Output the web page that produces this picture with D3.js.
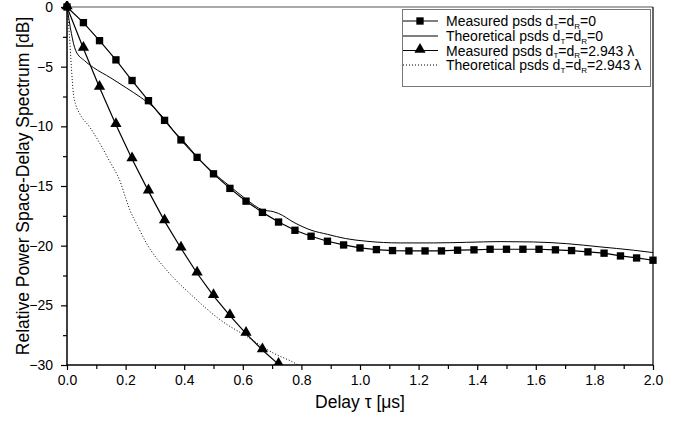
<!DOCTYPE html>
<html>
<head>
<meta charset="utf-8">
<script src="https://cdn.jsdelivr.net/npm/d3@7"></script>
<style>
  body { margin: 0; background: #fff; }
  svg { font-family: Arial, "Liberation Sans", sans-serif; }
</style>
</head>
<body>
<div id="chart"></div>
<script>
// measured delays (us)
var tauMeasured = [0, 0.056, 0.111, 0.167, 0.222, 0.278, 0.333, 0.389, 0.444, 0.5,
    0.556, 0.611, 0.667, 0.722, 0.778, 0.833, 0.889, 0.944, 1.0, 1.056, 1.111,
    1.167, 1.222, 1.278, 1.333, 1.389, 1.444, 1.5, 1.556, 1.611, 1.667, 1.722,
    1.778, 1.833, 1.889, 1.944, 2.0];

// measured psds dT=dR=0 [dB]
var measured0 = [0, -1.31, -2.82, -4.43, -6.16, -7.85, -9.5, -11.14, -12.6, -13.98,
    -15.2, -16.27, -17.21, -18.02, -18.71, -19.21, -19.63, -19.94, -20.19, -20.33,
    -20.41, -20.44, -20.44, -20.44, -20.38, -20.35, -20.3, -20.3, -20.3, -20.3,
    -20.35, -20.41, -20.52, -20.63, -20.86, -21.03, -21.22];

// measured psds dT=dR=2.943 lambda [dB]
var measured2943 = [0, -3.48, -6.74, -9.86, -12.73, -15.43, -17.94, -20.22, -22.31,
    -24.2, -25.87, -27.37, -28.74, -29.95];

// theoretical psds dT=dR=0
var tauTheo0 = [0, 0.03, 0.06, 0.09, 0.15, 0.204, 0.25, 0.295, 0.33, 0.363, 0.4,
    0.444, 0.5, 0.555, 0.611, 0.667, 0.704, 0.722, 0.778, 0.833, 0.889, 0.95,
    1.023, 1.137, 1.25, 1.364, 1.478, 1.592, 1.705, 1.819, 1.933, 2.0];
var theo0 = [0, -3.67, -4.5, -5.07, -5.95, -6.8, -7.55, -8.4, -9.3, -10.36, -11.3,
    -12.55, -13.9, -15.0, -16.1, -17.0, -17.15, -17.3, -18.1, -18.7, -19.05, -19.4,
    -19.63, -19.77, -19.77, -19.72, -19.66, -19.69, -19.83, -20.1, -20.38, -20.58];

// theoretical psds dT=dR=2.943 lambda
var tauTheo2943 = [0, 0.008, 0.015, 0.022, 0.03, 0.044, 0.078, 0.113, 0.147, 0.181,
    0.2, 0.215, 0.24, 0.272, 0.34, 0.431, 0.522, 0.613, 0.704, 0.784, 0.8];
var theo2943 = [0, -2.3, -5.07, -7.3, -8.2, -8.97, -10.08, -11.47, -13.0, -14.6,
    -16.0, -17.04, -18.3, -19.83, -22.05, -24.28, -26.2, -27.6, -29.0, -29.94, -30.2];

var xTicks = [0, 0.2, 0.4, 0.6, 0.8, 1.0, 1.2, 1.4, 1.6, 1.8, 2.0];
var yTicks = [0, -5, -10, -15, -20, -25, -30];

var width = 678, height = 424;
var margin = {left: 67, right: 25, top: 7, bottom: 59};

var svg = d3.select("#chart").append("svg")
    .attr("width", width)
    .attr("height", height);

var x = d3.scaleLinear().domain([0, 2]).range([margin.left, width - margin.right]);
var y = d3.scaleLinear().domain([0, -30]).range([margin.top, height - margin.bottom]);

svg.append("clipPath").attr("id", "plot")
    .append("rect")
    .attr("x", x(0) - 6).attr("y", y(0) - 6)
    .attr("width", x(2) - x(0) + 12).attr("height", y(-30) - y(0) + 6);

// frame top and right
svg.append("line")
    .attr("x1", x(0)).attr("x2", x(2)).attr("y1", y(0)).attr("y2", y(0))
    .attr("stroke", "#8c8c8c").attr("stroke-width", 1.3);
svg.append("line")
    .attr("x1", x(2)).attr("x2", x(2)).attr("y1", y(0)).attr("y2", y(-30))
    .attr("stroke", "#000").attr("stroke-width", 1.2);

// axes
var xAxis = d3.axisBottom(x).tickValues(xTicks).tickSize(5).tickPadding(5)
    .tickFormat(d3.format(".1f"));
var gx = svg.append("g").attr("transform", "translate(0," + y(-30) + ")").call(xAxis);
svg.append("g").attr("transform", "translate(0," + y(-30) + ")")
    .call(d3.axisBottom(x).tickValues(d3.range(0.1, 2, 0.2)).tickSize(4).tickFormat(""))
    .select(".domain").remove();

var yAxis = d3.axisLeft(y).tickValues(yTicks).tickSize(6).tickPadding(8);
var gy = svg.append("g").attr("transform", "translate(" + x(0) + ",0)").call(yAxis);
svg.append("g").attr("transform", "translate(" + x(0) + ",0)")
    .call(d3.axisLeft(y).tickValues([-2.5, -7.5, -12.5, -17.5, -22.5, -27.5]).tickSize(4).tickFormat(""))
    .select(".domain").remove();

svg.selectAll(".domain").attr("stroke-width", 1.5);
svg.selectAll(".tick line").attr("stroke-width", 1.2);
svg.selectAll(".tick text").style("font-size", "14px").attr("fill", "#000");
gx.select(".domain").attr("d", "M" + x(0) + ",0H" + x(2));
gy.select(".domain").attr("d", "M0," + y(0) + "V" + y(-30));

// axis titles
svg.append("text")
    .attr("x", (x(0) + x(2)) / 2).attr("y", 408)
    .attr("text-anchor", "middle")
    .style("font-size", "17.5px")
    .text("Delay \u03c4 [\u03bcs]");

svg.append("text")
    .attr("transform", "translate(29," + ((y(0) + y(-30)) / 2) + ") rotate(-90)")
    .attr("text-anchor", "middle")
    .style("font-size", "17.5px")
    .text("Relative Power Space-Delay Spectrum [dB]");

// series
var plot = svg.append("g").attr("clip-path", "url(#plot)");

var lineStraight = d3.line()
    .x(function (d) { return x(d[0]); })
    .y(function (d) { return y(d[1]); });
var lineSmooth = d3.line()
    .x(function (d) { return x(d[0]); })
    .y(function (d) { return y(d[1]); })
    .curve(d3.curveMonotoneX);

var m0 = tauMeasured.map(function (t, i) { return [t, measured0[i]]; });
var m2 = measured2943.map(function (v, i) { return [tauMeasured[i], v]; });
var t0 = tauTheo0.map(function (t, i) { return [t, theo0[i]]; });
var t2 = tauTheo2943.map(function (t, i) { return [t, theo2943[i]]; });

plot.append("path").datum(t0).attr("d", lineSmooth)
    .attr("fill", "none").attr("stroke", "#000").attr("stroke-width", 1);
plot.append("path").datum(t2).attr("d", lineSmooth)
    .attr("fill", "none").attr("stroke", "#000").attr("stroke-width", 1)
    .attr("stroke-dasharray", "1,2");
plot.append("path").datum(m0).attr("d", lineStraight)
    .attr("fill", "none").attr("stroke", "#000").attr("stroke-width", 1.2);
plot.append("path").datum(m2).attr("d", lineStraight)
    .attr("fill", "none").attr("stroke", "#000").attr("stroke-width", 1.2);

var square = d3.symbol().type(d3.symbolSquare).size(54);
var triangle = d3.symbol().type(d3.symbolTriangle).size(55);

plot.selectAll(".sq").data(m0).enter().append("path")
    .attr("class", "sq")
    .attr("d", square)
    .attr("transform", function (d) { return "translate(" + x(d[0]) + "," + y(d[1]) + ")"; });
plot.selectAll(".tri").data(m2).enter().append("path")
    .attr("class", "tri")
    .attr("d", triangle)
    .attr("transform", function (d) { return "translate(" + x(d[0]) + "," + (y(d[1]) - 1) + ")"; });

// legend
var legend = svg.append("g");
legend.append("rect")
    .attr("x", 402.5).attr("y", 9.5).attr("width", 248).attr("height", 77)
    .attr("fill", "#fff").attr("stroke", "#777").attr("stroke-width", 1);

var legendItems = [
    {label: "Measured psds ", tail: "0", marker: "square", dash: null},
    {label: "Theoretical psds ", tail: "0", marker: null, dash: null},
    {label: "Measured psds ", tail: "2.943 \u03bb", marker: "triangle", dash: null},
    {label: "Theoretical psds ", tail: "2.943 \u03bb", marker: null, dash: "1,2"}
];
var rowY = [21, 36, 50.5, 65];

legendItems.forEach(function (item, i) {
    var ly = rowY[i];
    legend.append("line")
        .attr("x1", 403).attr("x2", 438).attr("y1", ly).attr("y2", ly)
        .attr("stroke", "#000").attr("stroke-width", 1)
        .attr("stroke-dasharray", item.dash);
    if (item.marker == "square") {
        legend.append("path").attr("d", square).attr("transform", "translate(420," + ly + ")");
    }
    if (item.marker == "triangle") {
        legend.append("path").attr("d", triangle).attr("transform", "translate(420," + (ly - 1) + ")");
    }
    var txt = legend.append("text")
        .attr("x", 446).attr("y", ly + 5)
        .style("font-size", "14px");
    txt.append("tspan").text(item.label + "d");
    txt.append("tspan").attr("dy", 2.5).style("font-size", "8px").text("T");
    txt.append("tspan").attr("dy", -2.5).text("=d");
    txt.append("tspan").attr("dy", 2.5).style("font-size", "8px").text("R");
    txt.append("tspan").attr("dy", -2.5).text("=" + item.tail);
});
</script>
</body>
</html>
